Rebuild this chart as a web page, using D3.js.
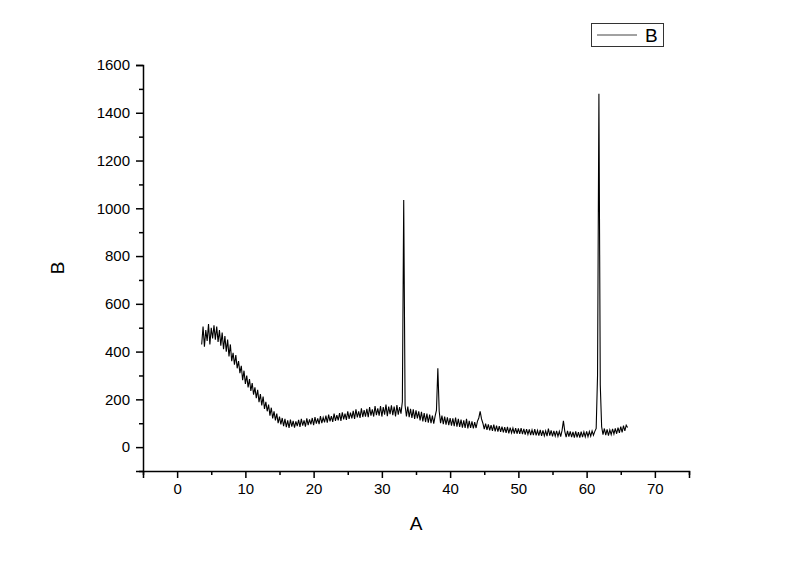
<!DOCTYPE html>
<html><head><meta charset="utf-8">
<script src="https://cdn.jsdelivr.net/npm/d3@7"></script>
<style>body{margin:0;background:#fff}svg{display:block}</style>
</head><body>
<script>
const xStart = 3.6, xStep = 0.2;
const intensity = [
430,505,420,490,445,515,430,500,455,510,
450,505,440,490,425,480,410,465,400,450,
380,430,360,395,345,385,330,360,310,340,
280,320,265,300,250,285,235,268,220,250,
205,240,188,222,175,212,160,190,150,178,
132,165,120,150,112,140,100,128,95,122,
88,118,84,112,80,115,86,110,82,108,
88,114,85,118,90,112,86,120,92,116,
95,122,92,126,98,120,96,130,100,124,
104,132,102,136,108,130,106,140,110,134,
112,142,110,146,116,140,114,150,118,144,
120,152,118,158,124,150,122,162,126,155,
128,160,125,168,132,158,128,172,134,162,
132,172,128,168,136,178,130,170,138,175,
134,170,128,176,136,168,140,190,1035,175,
128,170,125,160,122,158,118,154,120,150,
112,148,108,142,105,140,102,136,100,132,
98,130,155,330,150,100,132,96,128,94,
125,92,122,90,120,88,124,86,118,85,
115,82,112,80,118,78,110,80,108,78,
105,80,108,122,150,118,100,75,98,72,
95,70,92,68,94,66,90,65,88,64,
86,62,84,60,85,58,82,60,80,57,
80,56,78,55,80,54,76,52,75,53,
74,50,72,50,75,49,70,48,72,47,
70,47,68,46,78,48,70,45,68,46,
68,45,66,44,70,110,66,42,68,44,
66,42,64,40,66,41,63,40,65,42,
64,43,66,44,65,46,68,50,66,78,
300,1480,260,85,52,78,50,74,48,72,
52,76,55,78,56,82,60,86,62,90,
68,92,82
];
const xMajorTicks = [0,10,20,30,40,50,60,70];
const xMinorTicks = [-5,5,15,25,35,45,55,65,75];
const yMajorTicks = [0,200,400,600,800,1000,1200,1400,1600];
const yMinorTicks = [-100,100,300,500,700,900,1100,1300,1500];
const xTitle = "A", yTitle = "B", seriesName = "B";

const data = intensity.map((v,i)=>({x: xStart + i*xStep, y: v}));

const W = 800, H = 566;
const svg = d3.select("body").append("svg").attr("width",W).attr("height",H)
  .style("font-family","'Liberation Sans', Arial, sans-serif");

const x = d3.scaleLinear().domain([-5,75]).range([143,689]);
const y = d3.scaleLinear().domain([-100,1600]).range([471,65]);

// line
svg.append("path").datum(data)
  .attr("fill","none").attr("stroke","#000").attr("stroke-width",1.1)
  .attr("d", d3.line().x(d=>x(d.x)).y(d=>y(d.y)));

// axes
const xAxis = svg.append("g").attr("transform",`translate(0,${y(-100)})`);
xAxis.call(d3.axisBottom(x).tickValues(xMajorTicks).tickSize(7).tickPadding(5).tickFormat(d3.format("d")));
const xMinor = svg.append("g").attr("transform",`translate(0,${y(-100)})`);
xMinor.call(d3.axisBottom(x).tickValues(xMinorTicks).tickSize(4).tickFormat(""));
xMinor.select(".domain").remove();

const yAxis = svg.append("g").attr("transform",`translate(${x(-5)},0)`);
yAxis.call(d3.axisLeft(y).tickValues(yMajorTicks).tickSize(7).tickPadding(6).tickFormat(d3.format("d")));
const yMinor = svg.append("g").attr("transform",`translate(${x(-5)},0)`);
yMinor.call(d3.axisLeft(y).tickValues(yMinorTicks).tickSize(4).tickFormat(""));
yMinor.select(".domain").remove();

svg.selectAll(".domain").attr("stroke","#000").attr("stroke-width",1.5);
svg.selectAll(".tick line").attr("stroke","#000").attr("stroke-width",1.5);
svg.selectAll(".tick text").attr("font-size",15).attr("fill","#000")
  .attr("font-family","'Liberation Sans', Arial, sans-serif");

// axis titles
svg.append("text").attr("x",(x(-5)+x(75))/2).attr("y",530)
  .attr("text-anchor","middle").attr("font-size",19).text(xTitle);
svg.append("text").attr("transform",`translate(64,${(y(-100)+y(1600))/2}) rotate(-90)`)
  .attr("text-anchor","middle").attr("font-size",19).text(yTitle);

// legend
const lg = svg.append("g");
lg.append("rect").attr("x",591.5).attr("y",23.5).attr("width",72).attr("height",23)
  .attr("fill","#fff").attr("stroke","#333").attr("stroke-width",1);
lg.append("line").attr("x1",597).attr("x2",637).attr("y1",35).attr("y2",35)
  .attr("stroke","#444").attr("stroke-width",1);
lg.append("text").attr("x",645).attr("y",42).attr("font-size",19).text(seriesName);
</script>
</body></html>
